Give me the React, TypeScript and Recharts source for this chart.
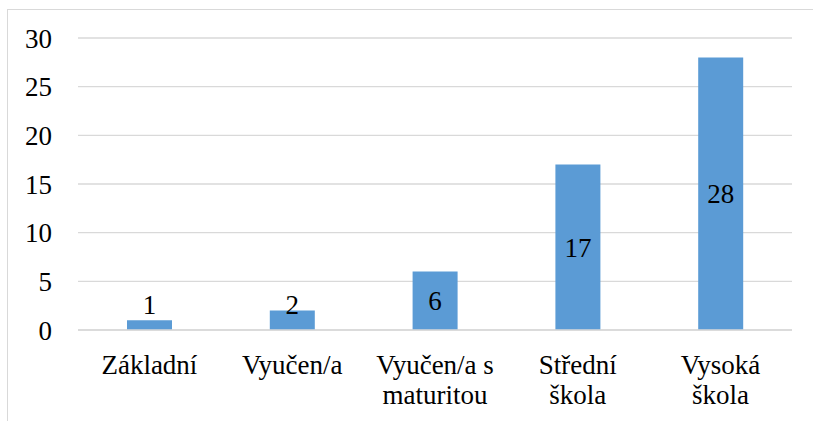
import React from 'react';
import { BarChart, Bar, XAxis, YAxis, CartesianGrid, LabelList } from 'recharts';

const categories: string[] = ['Základní', 'Vyučen/a', 'Vyučen/a s maturitou', 'Střední škola', 'Vysoká škola'];
const categoryLines: string[][] = [['Základní'], ['Vyučen/a'], ['Vyučen/a s', 'maturitou'], ['Střední', 'škola'], ['Vysoká', 'škola']];
const values: number[] = [1, 2, 6, 17, 28];
const yTicks: number[] = [0, 5, 10, 15, 20, 25, 30];

const data = categories.map((c, i) => ({ name: c, lines: categoryLines[i], value: values[i] }));

const FONT = '"Liberation Serif", "Times New Roman", serif';
const FS = 27;
const GRID = '#d9d9d9';
const BAR = '#5b9bd5';

const XTick = (props: any) => {
  const { x, y, payload, index } = props;
  const lines = categoryLines[index] ?? [String(payload.value)];
  return (
    <text x={x} y={y} textAnchor="middle" fill="#000" fontFamily={FONT} fontSize={FS}>
      {lines.map((l: string, i: number) => (
        <tspan key={i} x={x} y={y + 44 + i * 30}>{l}</tspan>
      ))}
    </text>
  );
};

const BarLabel = (props: any) => {
  const { x, y, width, height, value } = props;
  const zeroY = y + height;
  const cy = Math.min(y + height / 2, zeroY - 26);
  return (
    <text x={x + width / 2} y={cy} dy="0.355em" textAnchor="middle" fill="#000" fontFamily={FONT} fontSize={FS}>
      {value}
    </text>
  );
};

export default function App() {
  return (
    <div style={{ position: 'fixed', left: 0, top: 0, width: 813, height: 421, overflow: 'hidden', background: '#fff' }}>
      <div style={{ position: 'absolute', left: 7, top: 9, width: 900, height: 600, border: `1px solid ${GRID}`, boxSizing: 'border-box' }} />
      <div style={{ position: 'absolute', left: 0, top: 0 }}>
        <BarChart width={813} height={421} data={data} margin={{ top: 38, right: 21, bottom: 0, left: 0 }}>
          <CartesianGrid vertical={false} stroke={GRID} strokeWidth={1.3} />
          <XAxis
            dataKey="name"
            axisLine={{ stroke: GRID, strokeWidth: 1.3 }}
            tickLine={false}
            tickSize={0}
            tickMargin={0}
            interval={0}
            tick={<XTick />}
            height={91}
          />
          <YAxis
            domain={[0, 30]}
            ticks={yTicks}
            axisLine={false}
            tickLine={false}
            tickSize={0}
            tickMargin={26}
            width={78}
            tick={{ fill: '#000', fontSize: FS, fontFamily: FONT }}
          />
          <Bar dataKey="value" fill={BAR} barSize={45} isAnimationActive={false}>
            <LabelList dataKey="value" content={<BarLabel />} />
          </Bar>
        </BarChart>
      </div>
    </div>
  );
}
